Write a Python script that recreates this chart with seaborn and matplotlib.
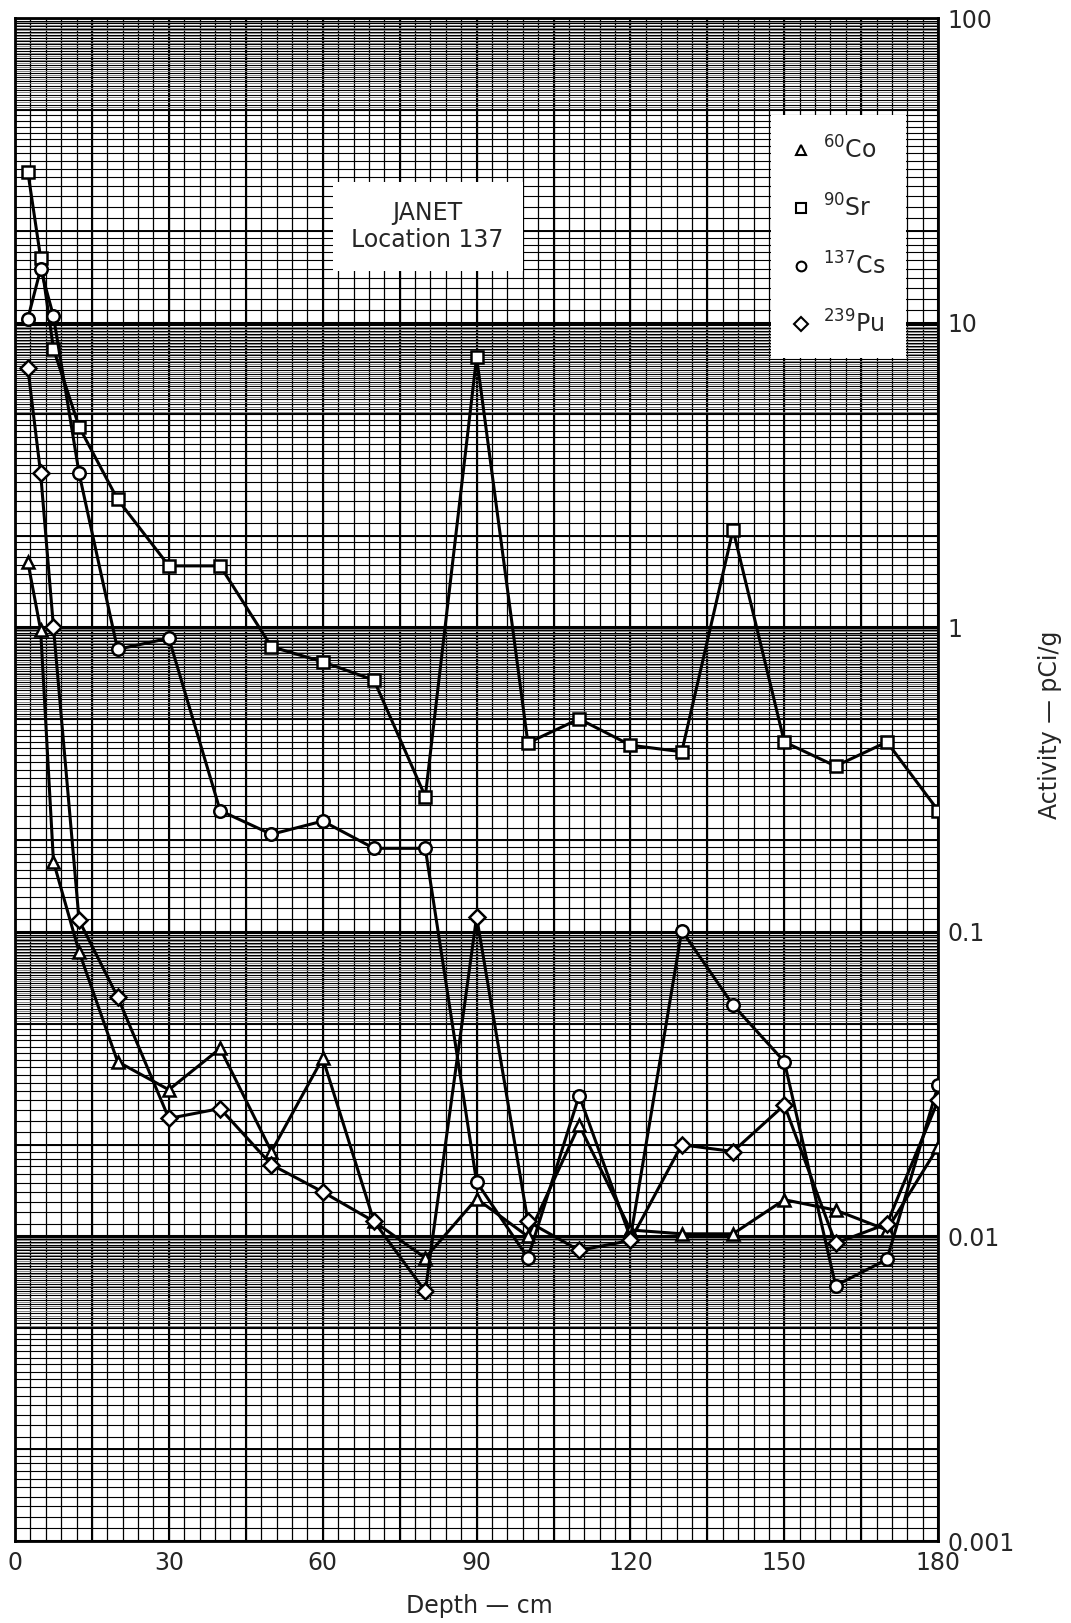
import numpy as np
import pandas as pd
import seaborn as sns
import matplotlib.pyplot as plt
from matplotlib.lines import Line2D
from matplotlib.ticker import NullLocator

# Sample depths (cm)
depth = [2.5, 5, 7.5, 12.5, 20, 30, 40, 50, 60, 70, 80, 90, 100, 110, 120,
         130, 140, 150, 160, 170, 180]

# Activity (pCi/g)
co60 = [1.64, 0.98, 0.17, 0.086, 0.0375, 0.0303, 0.0414, 0.019, 0.0385, 0.0112,
        0.0085, 0.0133, 0.010, 0.0232, 0.0105, 0.0102, 0.0102, 0.0132, 0.0122,
        0.0105, 0.0197]
sr90 = [31.3, 16.3, 8.2, 4.55, 2.63, 1.59, 1.59, 0.863, 0.77, 0.67, 0.278, 7.7,
        0.417, 0.50, 0.41, 0.39, 2.09, 0.42, 0.35, 0.42, 0.25]
cs137 = [10.3, 15.0, 10.5, 3.2, 0.846, 0.92, 0.25, 0.209, 0.231, 0.188, 0.188,
         0.0151, 0.0085, 0.029, 0.0099, 0.101, 0.0575, 0.0375, 0.0069, 0.0084,
         0.0314]
pu239 = [7.1, 3.2, 1.0, 0.109, 0.0612, 0.0244, 0.0263, 0.0172, 0.014, 0.0112,
         0.0066, 0.112, 0.0112, 0.009, 0.0097, 0.020, 0.019, 0.027, 0.0095, 0.011,
         0.028]

nuclides = ["Co", "Sr", "Cs", "Pu"]
legend_labels = [r"$^{60}$Co", r"$^{90}$Sr", r"$^{137}$Cs", r"$^{239}$Pu"]
markers = {"Co": "^", "Sr": "s", "Cs": "o", "Pu": "D"}
marker_sizes = {"Co": 8, "Sr": 8, "Cs": 9, "Pu": 8}

x_ticks = [0, 30, 60, 90, 120, 150, 180]
y_ticks = [0.001, 0.01, 0.1, 1, 10, 100]
y_tick_labels = ["0.001", "0.01", "0.1", "1", "10", "100"]

df = pd.concat([
    pd.DataFrame({"depth": depth, "activity": vals, "nuclide": name})
    for name, vals in zip(nuclides, [co60, sr90, cs137, pu239])
])

sns.set_style("white")
plt.rcParams["font.family"] = ["DejaVu Sans"]

fig = plt.figure(figsize=(10.71, 16.23), dpi=100)
ax = fig.add_axes([0.014, 0.0505, 0.862, 0.9384])
ax.set_yscale("log")

# graph paper background
ax.vlines(np.arange(0, 181, 3), 0.001, 100, color="black", lw=0.9, zorder=0)
ax.vlines(np.arange(0, 181, 15), 0.001, 100, color="black", lw=1.5, zorder=0)
for k in range(-3, 2):
    base = 10.0 ** k
    fine = np.concatenate([np.arange(1, 2, 0.1), np.arange(2, 5, 0.2),
                           np.arange(5, 10, 0.2)]) * base
    ax.hlines(fine, 0, 180, color="black", lw=0.8, zorder=0)
    band = np.arange(5.1, 10, 0.2) * base
    ax.hlines(band, 0, 180, color="0.45", lw=0.6, zorder=0)
    ax.hlines([2 * base, 5 * base], 0, 180, color="black", lw=1.4, zorder=0)
    ax.hlines(base, 0, 180, color="black", lw=2.2, zorder=0)

# data
for name in nuclides:
    sub = df[df["nuclide"] == name]
    sns.lineplot(data=sub, x="depth", y="activity", marker=markers[name],
                 markersize=marker_sizes[name], color="black", lw=2.2,
                 markerfacecolor="white", markeredgecolor="black",
                 markeredgewidth=1.8, ax=ax, zorder=3, legend=False)

ax.set_xlim(0, 180)
ax.set_ylim(0.001, 100)

ax.yaxis.tick_right()
ax.set_yticks(y_ticks, y_tick_labels)
ax.yaxis.set_minor_locator(NullLocator())
ax.set_xticks(x_ticks, [str(v) for v in x_ticks])
ax.tick_params(axis="both", length=0, labelsize=17, pad=7)

ax.set_xlabel("Depth — cm", fontsize=17)
ax.xaxis.set_label_coords(0.503, -0.035)
ax.yaxis.set_label_position("right")
ax.set_ylabel("Activity — pCi/g", fontsize=17)
ax.yaxis.set_label_coords(1.108, 0.536)

for spine in ax.spines.values():
    spine.set_linewidth(2)
    spine.set_color("black")

ax.text(0.447, 0.863, "JANET\nLocation 137", transform=ax.transAxes,
        ha="center", va="center", fontsize=17, linespacing=1.15, zorder=5,
        bbox=dict(boxstyle="square,pad=0.8", facecolor="white", edgecolor="none"))

handles = [Line2D([], [], ls="none", marker=markers[n], ms=7, mfc="white",
                  mec="black", mew=1.5) for n in nuclides]
ax.legend(handles, legend_labels, loc="upper right", bbox_to_anchor=(0.978, 0.944),
          frameon=True, fancybox=False, edgecolor="none", facecolor="white",
          framealpha=1, fontsize=17, labelspacing=1.3, handlelength=0.8,
          handletextpad=0.5, borderpad=0.9)

fig.savefig("out.png", dpi=100)
